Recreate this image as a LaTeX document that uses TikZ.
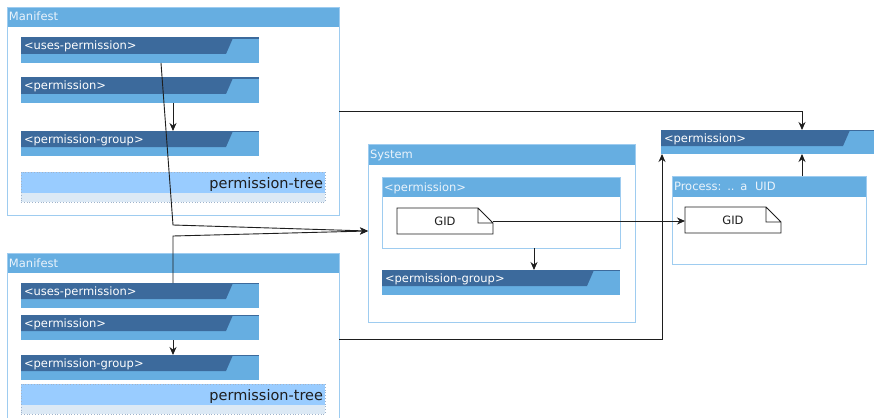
\documentclass[tikz,border=0pt]{standalone}
\usepackage{fontspec}
\setmainfont{DejaVu Sans}
\usetikzlibrary{arrows.meta,calc}

\definecolor{headblue}{HTML}{66AEE1}
\definecolor{bardark}{HTML}{3C6A9C}
\definecolor{boxline}{HTML}{9ECCF0}
\definecolor{treetop}{HTML}{99CCFF}
\definecolor{treebot}{HTML}{DCE9F5}
\definecolor{treeline}{HTML}{9FB3CB}
\definecolor{titletxt}{HTML}{EAF3FB}
\definecolor{ink}{HTML}{1E1E1E}

\newcommand\lblfont{\fontsize{11.5}{13}\selectfont}
\newcommand\treefont{\fontsize{14.5}{17}\selectfont}

\begin{document}
\begin{tikzpicture}[x=1pt,y=-1pt,
  % container with a coloured title band
  cont/.style={anchor=north west, outer sep=0pt, draw=boxline, line width=0.8pt,
    fill=white, inner xsep=2pt, inner ysep=0pt, text height=14pt, align=left,
    text=titletxt, font=\lblfont,
    path picture={\fill[headblue] (path picture bounding box.north west)
      rectangle ([yshift=-#1]path picture bounding box.north east);}},
  cont/.default=20pt,
  % element bar: dark tab with slanted end over a light strip
  bar/.style={anchor=north west, outer sep=0pt, inner xsep=3pt, inner ysep=0pt,
    text width=#1, text height=12pt, text depth=13pt, align=left,
    fill=headblue, text=white, font=\lblfont,
    path picture={
      \fill[bardark] (path picture bounding box.north west)
        -- ([xshift=-26pt]path picture bounding box.north east)
        -- ([xshift=-33pt,yshift=-16pt]path picture bounding box.north east)
        -- ([yshift=-16pt]path picture bounding box.north west) -- cycle;
      \draw[bardark, line width=1.2pt] (path picture bounding box.north west)
        -- (path picture bounding box.north east);}},
  bar/.default=232pt,
  % dotted tree band
  tree/.style={anchor=north west, outer sep=0pt, draw=treeline, dotted,
    line width=0.8pt, fill=treebot, inner xsep=2pt, inner ysep=0pt,
    text width=300pt, text height=16pt, text depth=14pt, align=right,
    text=ink, font=\treefont,
    path picture={\fill[treetop] (path picture bounding box.north west)
      rectangle ([yshift=-21pt]path picture bounding box.north east);}},
  % note with folded corner (outline drawn afterwards)
  gid/.style={anchor=north west, outer sep=0pt, fill=white, inner sep=0pt,
    minimum width=96pt, minimum height=26pt, text=ink, font=\lblfont},
  noteline/.style={draw=ink, line width=0.8pt},
  conn/.style={draw=ink, line width=0.9pt, -{Stealth[length=8pt,width=7pt]}}
]
\clip (0,0) rectangle (874,417);
\fill[white] (0,0) rectangle (874,417);

% first manifest
\node[cont, text width=328pt, text depth=194pt] (man1) at (7,7) {Manifest};
\node[bar] (u1) at (21,38) {<uses-permission>};
\node[bar] (p1) at (21,78) {<permission>};
\node[bar] (g1) at (21,131) {<permission-group>};
\node[tree] (t1) at (21,172) {permission-tree};

% second manifest
\node[cont, text width=328pt, text depth=158pt] (man2) at (7,253) {Manifest};
\node[bar] (u2) at (21,283) {<uses-permission>};
\node[bar] (p2) at (21,315) {<permission>};
\node[bar] (g2) at (21,355) {<permission-group>};
\node[tree] (t2) at (21,384) {permission-tree};

% system
\node[cont=21pt, text width=263pt, text depth=164pt] (sys) at (368,144) {System};
\node[cont, text width=234pt, text depth=57pt] (sysperm) at (382,177) {<permission>};
\node[gid] (gid1) at (397,208) {GID};
\node[bar] (sysgrp) at (382,270) {<permission-group>};

% process side
\node[bar=209pt, text depth=12pt] (rperm) at (661,130) {<permission>};
\node[cont=21pt, text width=190pt, text depth=74pt] (proc) at (672,176) {Process: .. a~~UID};
\node[gid] (gid2) at (685,207) {GID};

% note outlines
\foreach \n in {gid1,gid2}
  \draw[noteline] (\n.north west) -- ([xshift=-15pt]\n.north east)
    -- ([yshift=-15pt]\n.north east) -- (\n.south east) -- (\n.south west) -- cycle
    ([xshift=-15pt]\n.north east) |- ([yshift=-15pt]\n.north east);

% routing points
\coordinate (tapx) at (802,111);
\coordinate (b1) at (173,225);
\coordinate (b2) at (173,236);

% connectors
\draw[conn] ([xshift=33pt]p1.south) -- ([xshift=33pt]g1.north);
\draw[conn] ([xshift=33pt]p2.south) -- ([xshift=33pt]g2.north);
\draw[conn] ([xshift=33pt]sysperm.south) -- ([xshift=33pt]sysgrp.north);
\draw[conn] ([xshift=21pt]u1.south) -- (b1) -- ([yshift=2pt]sys.west);
\draw[conn] (u2.north -| b2) -- (b2) -- ([yshift=2pt]sys.west);
\draw[conn] (gid1.east) -- (gid1.east -| gid2.west);
\draw[conn] (man1.east) -| (tapx |- rperm.north);
\draw[conn] (proc.north -| tapx) -- (tapx |- rperm.south);
\draw[conn] (man2.east) -| ([xshift=1pt]rperm.south west);
\end{tikzpicture}
\end{document}
